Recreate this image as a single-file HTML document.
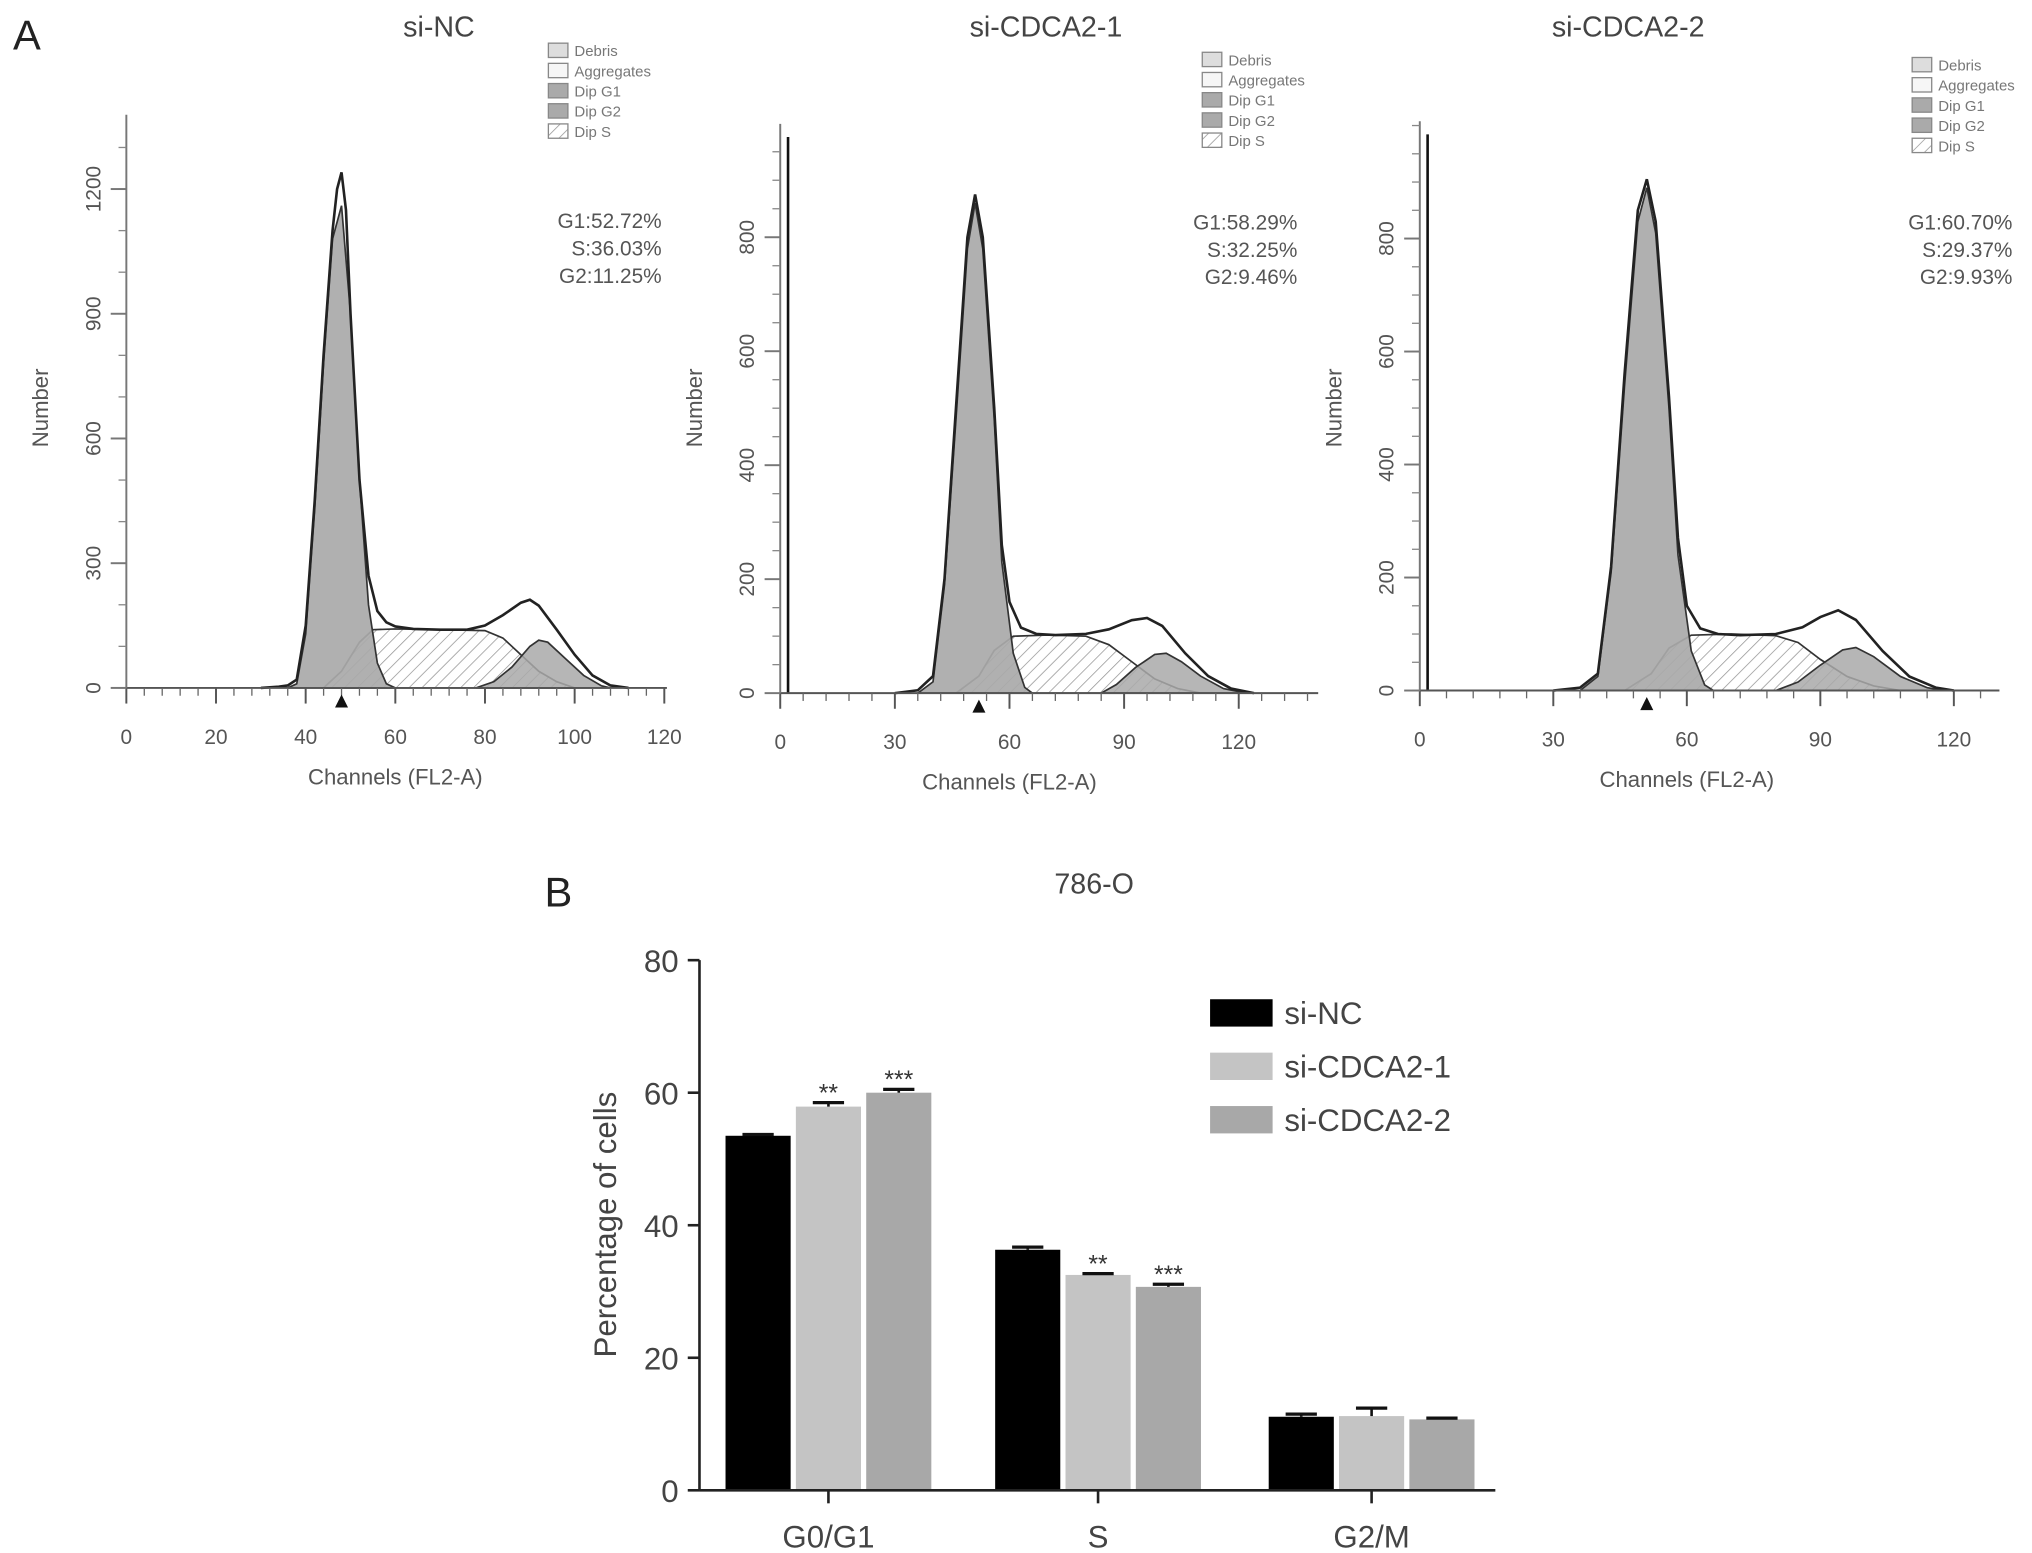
<!DOCTYPE html>
<html><head><meta charset="utf-8"><style>
html,body{margin:0;padding:0;background:#fff;}
svg{display:block;font-family:"Liberation Sans",sans-serif;}
</style></head><body>
<svg id="fig" width="2032" height="1553" viewBox="0 0 1560 1192" xmlns="http://www.w3.org/2000/svg">
<defs>
<pattern id="hatch" patternUnits="userSpaceOnUse" width="7" height="7" patternTransform="rotate(45)">
<rect width="7" height="7" fill="#fff"/><line x1="0" y1="0" x2="0" y2="7" stroke="#999" stroke-width="1.2"/>
</pattern>
</defs>
<text x="10" y="38" font-size="32" fill="#222">A</text>
<text x="418" y="696" font-size="32" fill="#222">B</text>
<g id="hists"></g>
<g id="bars"></g>
</svg>
<script>
// ---------- Panel A data ----------
const histTitles = ["si-NC", "si-CDCA2-1", "si-CDCA2-2"];
const histPct = [["G1:52.72%","S:36.03%","G2:11.25%"],["G1:58.29%","S:32.25%","G2:9.46%"],["G1:60.70%","S:29.37%","G2:9.93%"]];
const xTicks = [[0,20,40,60,80,100,120],[0,30,60,90,120],[0,30,60,90,120]];
const yTicks = [[0,300,600,900,1200],[0,200,400,600,800],[0,200,400,600,800]];
const legendItems = ["Debris","Aggregates","Dip G1","Dip G2","Dip S"];
// [channel, count]
const totalNC = [[30,0],[34,3],[36,6],[38,20],[40,150],[42,450],[44,800],[46,1100],[47,1200],[48,1240],[49,1150],[50,900],[52,500],[54,270],[56,185],[58,158],[60,148],[64,142],[70,140],[76,140],[80,150],[84,175],[88,205],[90,212],[92,198],[96,140],[100,80],[104,30],[108,6],[112,0]];
const g1NC = [[36,0],[38,10],[40,130],[42,430],[44,780],[46,1080],[48,1160],[50,900],[52,500],[54,200],[56,60],[58,10],[60,0]];
const sNC = [[44,0],[48,40],[52,110],[55,140],[60,142],[70,140],[80,138],[84,120],[88,80],[92,40],[96,15],[100,0]];
const g2NC = [[78,0],[82,15],[86,50],[90,100],[92,115],[94,110],[98,70],[102,30],[106,5],[108,0]];
const total1 = [[30,0],[36,5],[40,30],[43,200],[46,500],[49,800],[51,875],[53,800],[56,500],[58,260],[60,160],[63,115],[67,104],[72,102],[80,104],[86,112],[92,128],[96,132],[100,118],[106,70],[112,30],[118,8],[124,0]];
const g11 = [[36,0],[40,20],[43,190],[46,480],[49,780],[51,860],[53,780],[56,480],[58,230],[61,70],[64,10],[66,0]];
const s1 = [[46,0],[52,30],[56,75],[61,100],[70,102],[80,100],[86,85],[92,55],[98,25],[104,8],[110,0]];
const g21 = [[84,0],[88,15],[93,45],[98,68],[101,70],[105,55],[110,30],[116,8],[122,0]];
const total2 = [[30,0],[36,5],[40,30],[43,220],[46,560],[49,850],[51,905],[53,830],[56,520],[58,270],[60,150],[63,110],[67,100],[72,98],[80,100],[86,112],[90,130],[94,142],[98,125],[104,70],[110,25],[116,5],[120,0]];
const g12 = [[36,0],[40,25],[43,210],[46,540],[49,830],[51,890],[53,810],[56,500],[58,240],[61,70],[64,10],[66,0]];
const s2 = [[46,0],[52,30],[56,75],[61,98],[70,100],[80,97],[85,85],[90,55],[96,25],[102,8],[108,0]];
const g22 = [[80,0],[85,15],[90,45],[95,72],[98,76],[102,60],[108,25],[114,5],[118,0]];
const histTotals = [totalNC, total1, total2];
const histG1 = [g1NC, g11, g12];
const histS = [sNC, s1, s2];
const histG2 = [g2NC, g21, g22];
const markerCh = [48, 52, 51];

// ---------- Panel B data ----------
const phases = ["G0/G1","S","G2/M"];
const groups = ["si-NC","si-CDCA2-1","si-CDCA2-2"];
const valsNC = [53.5, 36.3, 11.1];
const valsC1 = [57.9, 32.5, 11.2];
const valsC2 = [60.0, 30.7, 10.7];
const errNC = [0.2, 0.4, 0.4];
const errC1 = [0.6, 0.2, 1.2];
const errC2 = [0.5, 0.4, 0.2];
const stars = [["","**","***"],["","**","***"],["","",""]];
const barTicks = [0,20,40,60,80];

const NS="http://www.w3.org/2000/svg";
function mk(tag, attrs, parent){const e=document.createElementNS(NS,tag);for(const k in attrs)e.setAttribute(k,attrs[k]);parent.appendChild(e);return e;}

// panel geometry (layout, not data)
const geo = [
 {x0:97, x1:510, xmax:120, axEnd:512, y0:528, ytop:145, yval:1200, yAxTop:88, title:337, legX:421, legY:43, pctX:508, pctY:175, minor:4, ymin:100},
 {x0:599, x1:951, xmax:120, axEnd:1012, y0:532, ytop:182, yval:800, yAxTop:95, title:803, legX:923, legY:50, pctX:996, pctY:176, minor:6, ymin:50},
 {x0:1090, x1:1500, xmax:120, axEnd:1535, y0:530, ytop:183, yval:800, yAxTop:93, title:1250, legX:1468, legY:54, pctX:1545, pctY:176, minor:6, ymin:50}
];
const hg=document.getElementById('hists');
geo.forEach((g,i)=>{
  const sx=c=>g.x0+(g.x1-g.x0)*c/g.xmax;
  const sy=v=>g.y0-(g.y0-g.ytop)*v/g.yval;
  const p=mk('g',{},hg);
  
  
  const t=mk('text',{x:g.title,y:28,'font-size':22,'text-anchor':'middle',fill:'#444'},p);t.textContent=histTitles[i];
  
  
  const path=(pts,close)=>{let d=pts.map((q,j)=>(j?'L':'M')+sx(q[0]).toFixed(1)+','+sy(q[1]).toFixed(1)).join(' ');return close?d+' Z':d;};
  const s=mk('path',{d:path(histS[i],true),fill:'url(#hatch)',stroke:'#333','stroke-width':1.3},p);
  
  
  const a1=mk('path',{d:path(histG1[i],true),fill:'#a9a9a9','fill-opacity':0.92,stroke:'#333','stroke-width':1.3},p);
  
  
  const a2=mk('path',{d:path(histG2[i],true),fill:'#a9a9a9','fill-opacity':0.85,stroke:'#333','stroke-width':1.3},p);
  
  
  const tot=mk('path',{d:path(histTotals[i],false),fill:'none',stroke:'#222','stroke-width':2},p);
  
  
  if(i>0){
    const sp=mk('line',{x1:g.x0+6,y1:g.y0,x2:g.x0+6,y2:g.yAxTop+10,stroke:'#111','stroke-width':2},p);
    
    
  }
  // axes
  mk('line',{x1:g.x0,y1:g.y0,x2:g.axEnd,y2:g.y0,stroke:'#555','stroke-width':1.5},p);
  mk('line',{x1:g.x0,y1:g.y0,x2:g.x0,y2:g.yAxTop,stroke:'#777','stroke-width':1.5},p);
  for(let c=0;c<=g.xmax+20;c+=g.minor){const x=sx(c);if(x>g.axEnd+1)break;mk('line',{x1:x,y1:g.y0,x2:x,y2:g.y0+6,stroke:'#666'},p);}
  xTicks[i].forEach(c=>{const x=sx(c);mk('line',{x1:x,y1:g.y0,x2:x,y2:g.y0+12,stroke:'#555','stroke-width':1.5},p);
    const tx=mk('text',{x:x,y:g.y0+43,'font-size':16,'text-anchor':'middle',fill:'#555'},p);tx.textContent=c;});
  for(let v=0;sy(v)>=g.yAxTop;v+=g.ymin){mk('line',{x1:g.x0,y1:sy(v),x2:g.x0-6,y2:sy(v),stroke:'#888'},p);}
  yTicks[i].forEach(v=>{const y=sy(v);mk('line',{x1:g.x0,y1:y,x2:g.x0-12,y2:y,stroke:'#777','stroke-width':1.5},p);
    const ty=mk('text',{x:0,y:0,'font-size':16,'text-anchor':'middle',fill:'#555',transform:`translate(${g.x0-20},${y}) rotate(-90)`},p);ty.textContent=v;});
  const yl=mk('text',{'font-size':17,'text-anchor':'middle',fill:'#555',transform:`translate(${g.x0-60},313) rotate(-90)`},p);yl.textContent='Number';
  
  
  const xl=mk('text',{x:(g.x0+sx(120))/2,y:g.y0+74,'font-size':17,'text-anchor':'middle',fill:'#555'},p);xl.textContent='Channels (FL2-A)';
  
  
  // marker
  const mx=sx(markerCh[i]);
  mk('path',{d:`M${mx-5},${g.y0+15} L${mx+5},${g.y0+15} L${mx},${g.y0+5} Z`,fill:'#111'},p);
  // percentages
  histPct[i].forEach((s2,j)=>{const tp=mk('text',{x:g.pctX,y:g.pctY+j*21,'font-size':16,'text-anchor':'end',fill:'#555'},p);tp.textContent=s2;});
  // legend
  legendItems.forEach((s3,j)=>{const y=g.legY+j*15.5;
    const fill=j===0?'#ddd':j===1?'#f6f6f6':j===4?'url(#hatch)':'#aaa';
    const r=mk('rect',{x:g.legX,y:y-10,width:15,height:11,fill:fill,stroke:'#888'},p);
    
    
    const lt=mk('text',{x:g.legX+20,y:y,'font-size':11.5,fill:'#777'},p);lt.textContent=s3;});
});

// ---------- Panel B ----------
const bg=document.getElementById('bars');
const bx0=537, by0=1144, by80=737, bxEnd=1148;
const yS=v=>by0-(by0-by80)*v/80;
const centers=[636,843,1053];
const bw=50, gap=4;
const series=[valsNC,valsC1,valsC2], errs=[errNC,errC1,errC2], colors=['#000','#c4c4c4','#a8a8a8'];
const tt=mk('text',{x:840,y:686,'font-size':22,'text-anchor':'middle',fill:'#444'},bg);tt.textContent='786-O';


series.forEach((vals,s)=>{vals.forEach((v,k)=>{
  const x=centers[k]+(s-1)*(bw+gap)-bw/2;
  const r=mk('rect',{x:x,y:yS(v),width:bw,height:by0-yS(v),fill:colors[s]},bg);
  
  
  const cx=x+bw/2, ye=yS(v+errs[s][k]);
  mk('line',{x1:cx,y1:yS(v),x2:cx,y2:ye,stroke:'#111','stroke-width':2},bg);
  mk('line',{x1:cx-12,y1:ye,x2:cx+12,y2:ye,stroke:'#111','stroke-width':2.5},bg);
  const st=stars[k][s];
  if(st){const sl=mk('text',{x:cx,y:ye-1,'font-size':19,'text-anchor':'middle',fill:'#333'},bg);sl.textContent=st;
    
    }
});});
mk('line',{x1:bx0,y1:by0,x2:bxEnd,y2:by0,stroke:'#222','stroke-width':2},bg);
mk('line',{x1:bx0,y1:by0,x2:bx0,y2:by80,stroke:'#222','stroke-width':2},bg);
barTicks.forEach(v=>{mk('line',{x1:bx0,y1:yS(v),x2:bx0-9,y2:yS(v),stroke:'#222','stroke-width':2},bg);
  const t=mk('text',{x:bx0-16,y:yS(v)+9,'font-size':24,'text-anchor':'end',fill:'#444'},bg);t.textContent=v;});
phases.forEach((ph,k)=>{mk('line',{x1:centers[k],y1:by0,x2:centers[k],y2:by0+10,stroke:'#222','stroke-width':2},bg);
  const t=mk('text',{x:centers[k],y:by0+44,'font-size':24,'text-anchor':'middle',fill:'#444'},bg);t.textContent=ph;});
const yl=mk('text',{'font-size':24,'text-anchor':'middle',fill:'#444',transform:'translate(473,940) rotate(-90)'},bg);yl.textContent='Percentage of cells';


groups.forEach((g,s)=>{const y=767+s*41;
  const r=mk('rect',{x:929,y:y,width:48,height:21,fill:colors[s]},bg);
  
  
  const t=mk('text',{x:986,y:y+19,'font-size':24,fill:'#444'},bg);t.textContent=g;
  
  });
</script>
</body></html>
